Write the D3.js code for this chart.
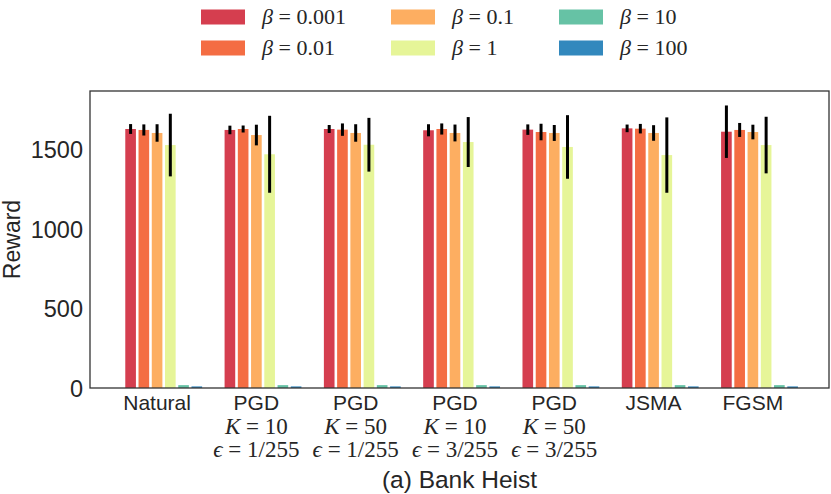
<!DOCTYPE html>
<html>
<head>
<meta charset="utf-8">
<script src="https://cdn.jsdelivr.net/npm/d3@7"></script>
<style>
  body { margin: 0; background: #fff; }
  svg { display: block; }
  .sans { font-family: "Liberation Sans", Arial, sans-serif; fill: #262626; }
  .math { font-family: "Liberation Serif", "DejaVu Serif", serif; fill: #262626; }
</style>
</head>
<body>
<svg id="svg01" width="831" height="494"></svg>
<script>

// attack settings on the x axis, each label is a list of lines
const groups = ["Natural", "PGD K10 e1", "PGD K50 e1", "PGD K10 e3", "PGD K50 e3", "JSMA", "FGSM"]
const groupLines = [
    [["Natural"]],
    [["PGD"], ["K", "10"], ["ϵ", "1/255"]],
    [["PGD"], ["K", "50"], ["ϵ", "1/255"]],
    [["PGD"], ["K", "10"], ["ϵ", "3/255"]],
    [["PGD"], ["K", "50"], ["ϵ", "3/255"]],
    [["JSMA"]],
    [["FGSM"]]
]

// hue levels
const betas = ["0.001", "0.01", "0.1", "1", "10", "100"]
const colors = ["#d53e4f", "#f46d43", "#fdae61", "#e6f598", "#66c2a5", "#3288bd"]

// mean reward per beta, one value per group
const reward0001 = [1629, 1623, 1629, 1621, 1625, 1633, 1612]
const reward001  = [1623, 1629, 1625, 1629, 1610, 1631, 1623]
const reward01   = [1604, 1591, 1604, 1604, 1604, 1604, 1610]
const reward1    = [1528, 1470, 1530, 1547, 1516, 1465, 1528]
const reward10   = [18, 18, 18, 18, 18, 18, 18]
const reward100  = [10, 10, 10, 10, 10, 10, 10]

// half length of the error bars
const err0001 = [31, 27, 25, 38, 33, 24, 165]
const err001  = [35, 22, 39, 35, 52, 30, 44]
const err01   = [55, 65, 55, 53, 50, 49, 46]
const err1    = [197, 242, 169, 157, 200, 237, 178]
const err10   = [0, 0, 0, 0, 0, 0, 0]
const err100  = [0, 0, 0, 0, 0, 0, 0]

const yTicks = [0, 500, 1000, 1500]

const means = [reward0001, reward001, reward01, reward1, reward10, reward100]
const errs = [err0001, err001, err01, err1, err10, err100]

// flat table for the bars
var data = []
groups.forEach((g, i) => {
    betas.forEach((b, j) => {
        data.push({group: g, beta: b, value: means[j][i], err: errs[j][i], color: colors[j]})
    })
})

margin = {top: 91, right: 2, bottom: 106, left: 90}
width = 831
height = 494

x0 = d3.scaleBand()
    .domain(groups)
    .range([margin.left, width - margin.right])
    .paddingInner(0.2)
    .paddingOuter(0.321)
    .align(0.533)

x1 = d3.scaleBand()
    .domain(betas)
    .range([0, x0.bandwidth()])

y = d3.scaleLinear()
    .domain([0, 1868])
    .range([height - margin.bottom, margin.top])

const svg = d3.select("#svg01")
const g_ = svg.append("g")

// bars
const gap = 2.6
g_.append("g")
    .selectAll("rect")
    .data(data)
    .join("rect")
    .attr("x", d => x0(d.group) + x1(d.beta) + gap / 2)
    .attr("width", x1.bandwidth() - gap)
    .attr("y", d => y(d.value))
    .attr("height", d => y(0) - y(d.value))
    .attr("fill", d => d.color)

// error bars
g_.append("g")
    .selectAll("line")
    .data(data.filter(d => d.err > 0))
    .join("line")
    .attr("x1", d => x0(d.group) + x1(d.beta) + x1.bandwidth() / 2)
    .attr("x2", d => x0(d.group) + x1(d.beta) + x1.bandwidth() / 2)
    .attr("y1", d => y(d.value - d.err))
    .attr("y2", d => y(d.value + d.err))
    .attr("stroke", "#000")
    .attr("stroke-width", 3)

// frame
g_.append("rect")
    .attr("x", margin.left)
    .attr("y", margin.top)
    .attr("width", width - margin.right - margin.left)
    .attr("height", height - margin.bottom - margin.top)
    .attr("fill", "none")
    .attr("stroke", "#333")
    .attr("stroke-width", 1.3)

// y axis, no tick marks
const yAxis = g => g
    .attr("transform", `translate(${margin.left},0)`)
    .call(d3.axisLeft(y).tickValues(yTicks).tickFormat(d3.format("d")).tickSize(0).tickPadding(7))
    .call(g => g.select(".domain").remove())
    .call(g => g.selectAll("text")
        .attr("class", "sans")
        .attr("font-size", 23.5)
        .attr("dy", "0.36em"))

g_.append("g").call(yAxis)

// x labels (multi line, math lines in serif)
const labelX = g => x0(g) + x1("0.1") + x1.bandwidth() / 2
const lineY = [410, 433.5, 457]
groups.forEach((g, i) => {
    groupLines[i].forEach((line, k) => {
        const t = g_.append("text")
            .attr("x", labelX(g))
            .attr("y", lineY[k])
            .attr("text-anchor", "middle")
        if (line.length == 1) {
            t.attr("class", "sans").attr("font-size", 21).text(line[0])
        } else {
            t.attr("class", "math").attr("font-size", 23)
            t.append("tspan").attr("font-style", "italic").text(line[0])
            t.append("tspan").text(" = " + line[1])
        }
    })
})

// y label
svg.append("text")
    .attr("class", "sans")
    .attr("font-size", 23)
    .attr("text-anchor", "middle")
    .attr("transform", `translate(20,${(margin.top + height - margin.bottom) / 2}) rotate(-90)`)
    .text("Reward")

// title
svg.append("text")
    .attr("class", "sans")
    .attr("font-size", 24.5)
    .attr("text-anchor", "middle")
    .attr("x", (margin.left + width - margin.right) / 2)
    .attr("y", 488)
    .text("(a) Bank Heist")

// legend, 3 columns x 2 rows
const colX = [201, 391, 559]
const rowY = [17, 48]
const leg = svg.append("g")
betas.forEach((b, j) => {
    const cx = colX[Math.floor(j / 2)]
    const cy = rowY[j % 2]
    leg.append("rect")
        .attr("x", cx)
        .attr("y", cy - 7.5)
        .attr("width", 44)
        .attr("height", 15)
        .attr("fill", colors[j])
    const t = leg.append("text")
        .attr("class", "math")
        .attr("font-size", 22)
        .attr("x", cx + 61)
        .attr("y", cy + 7)
    t.append("tspan").attr("font-style", "italic").text("β")
    t.append("tspan").text(" = " + b)
})

</script>
</body>
</html>
